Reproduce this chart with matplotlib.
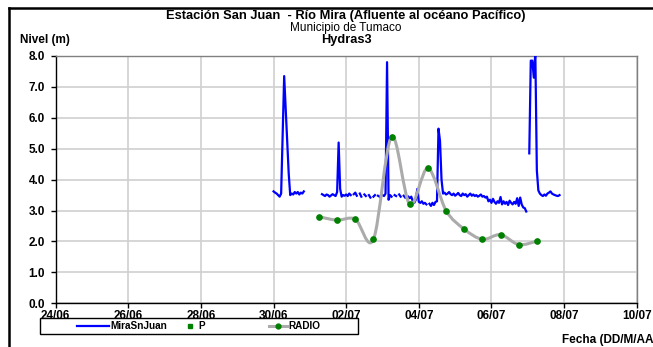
import numpy as np
import matplotlib
matplotlib.use("Agg")
import matplotlib.pyplot as plt
import matplotlib.dates as mdates
from matplotlib.path import Path
from matplotlib.patches import PathPatch, Rectangle
from matplotlib.lines import Line2D
from datetime import datetime, timedelta

plt.rcParams['font.family'] = ['Liberation Sans', 'DejaVu Sans']

# ---------------- data ----------------
title_lines = ["Estación San Juan  - Río Mira (Afluente al océano Pacífico)",
               "Municipio de Tumaco", "Hydras3"]
y_label = "Nivel (m)"
x_label = "Fecha (DD/M/AA"
x_ticks = ["2013-06-24", "2013-06-26", "2013-06-28", "2013-06-30", "2013-07-02",
           "2013-07-04", "2013-07-06", "2013-07-08", "2013-07-10"]
y_ticks = [0, 1, 2, 3, 4, 5, 6, 7, 8]
legend_labels = ["MiraSnJuan", "P", "RADIO"]

# MiraSnJuan hourly segments (start time, hourly values)
seg_a_start = "2013-06-30 00:00"
seg_a = [3.62, 3.58, 3.55, 3.50, 3.45, 3.55, 5.50, 7.35, 6.30, 5.20, 4.20, 3.50,
         3.55, 3.52, 3.60, 3.55, 3.60, 3.52, 3.58, 3.55, 3.62]
seg_b_start = "2013-07-01 08:00"
nan = np.nan
seg_b = [3.53, 3.50, 3.47, 3.52, 3.50, 3.45, 3.49, 3.53, 3.50, 3.47,
         3.60, 5.20, 3.70, 3.45,
         3.50, 3.48, 3.52, 3.47, 3.55, 3.50, nan, 3.53, 3.58, 3.48,
         nan, 3.55, 3.45, nan, 3.52, 3.47, nan, 3.50, 3.42, nan,
         3.45, 3.50, nan, 3.48, 3.45, nan, 3.50, 3.47,
         3.55, 7.80, 3.35,
         3.50, 3.45, nan, 3.50, 3.47, nan, 3.52, 3.45, nan, 3.48, 3.42, nan, 3.45, 3.40, 3.45,
         3.30, 3.25, 3.35, 3.70,
         3.28, 3.25, 3.30, 3.22, 3.25, 3.20, nan, 3.22, 3.15, 3.25, 3.18, 3.28,
         3.30, 5.65, 5.25, 4.00,
         3.55, 3.58, 3.52, 3.55, 3.60, 3.53, 3.50, 3.55, 3.48, 3.52,
         3.57, 3.50, 3.47, 3.55, 3.50, 3.53, 3.45, 3.50, 3.55, 3.48,
         3.52, 3.47, 3.50, 3.45, 3.48, 3.52, 3.45, 3.47, 3.42, 3.45,
         3.30, 3.35, 3.25, 3.38, 3.28, 3.22, 3.30, 3.25, 3.44, 3.20,
         3.30, 3.22, 3.28, 3.18, 3.32, 3.25, 3.20, 3.28, 3.22, 3.40,
         3.15, 3.42, 3.20, 3.10, 3.08, 2.97]
seg_c_start = "2013-07-07 01:00"
seg_c = [4.85, 7.85, 7.85, 7.30, 8.10, 4.30, 3.65, 3.55, 3.50, 3.47, 3.52,
         3.48, 3.55, 3.58, 3.62, 3.55, 3.52, 3.50, 3.48, 3.47, 3.50]

# RADIO readings
radio_times = ["2013-07-01 06:00", "2013-07-01 18:00", "2013-07-02 06:00",
               "2013-07-02 18:00", "2013-07-03 06:00", "2013-07-03 18:00",
               "2013-07-04 06:00", "2013-07-04 18:00", "2013-07-05 06:00",
               "2013-07-05 18:00", "2013-07-06 06:00", "2013-07-06 18:00",
               "2013-07-07 06:00"]
radio_vals = [2.80, 2.69, 2.72, 2.07, 5.39, 3.20, 4.37, 3.00, 2.40, 2.07, 2.22, 1.90, 2.01]

# ---------------- figure ----------------
W, H = 653, 347
fig = plt.figure(figsize=(W / 100, H / 100), dpi=100)
ax = fig.add_axes([55.7 / W, 1 - 303.3 / H, 581 / W, 247.3 / H])

def seg_series(start, vals):
    t0 = datetime.strptime(start, "%Y-%m-%d %H:%M")
    t = [mdates.date2num(t0 + timedelta(hours=i)) for i in range(len(vals))]
    return list(t), list(vals)

tx, vy = [], []
for st, vals in [(seg_a_start, seg_a), (seg_b_start, seg_b), (seg_c_start, seg_c)]:
    t, v = seg_series(st, vals)
    tx += t + [t[-1] + 0.01]
    vy += v + [nan]
ax.plot(tx, vy, color='#0000FF', lw=1.6, solid_joinstyle='round', zorder=3)

# RADIO smoothed line (Excel-like cardinal spline drawn as Bezier path)
rx = np.array([mdates.date2num(datetime.strptime(s, "%Y-%m-%d %H:%M")) for s in radio_times])
ry = np.array(radio_vals)
pts = np.column_stack([rx, ry])
verts = [tuple(pts[0])]
codes = [Path.MOVETO]
n = len(pts)
for i in range(n - 1):
    p0 = pts[i - 1] if i > 0 else pts[i]
    p1 = pts[i]
    p2 = pts[i + 1]
    p3 = pts[i + 2] if i + 2 < n else pts[i + 1]
    c1 = p1 + (p2 - p0) / 6.0
    c2 = p2 - (p3 - p1) / 6.0
    verts += [tuple(c1), tuple(c2), tuple(p2)]
    codes += [Path.CURVE4] * 3
ax.add_patch(PathPatch(Path(verts, codes), facecolor='none', edgecolor='#ABABAB',
                       lw=2.2, zorder=4))
ax.plot(rx, ry, ls='none', marker='o', ms=3.8, color='#008000', mec='#008000', zorder=5)

# axes styling
xt = [mdates.date2num(datetime.strptime(s, "%Y-%m-%d")) for s in x_ticks]
ax.set_xlim(xt[0], xt[-1])
ax.set_ylim(0, 8)
ax.set_xticks(xt)
ax.set_xticklabels([datetime.strptime(s, "%Y-%m-%d").strftime("%d/%m") for s in x_ticks])
ax.set_yticks(y_ticks)
ax.set_yticklabels(["%.1f" % v for v in y_ticks])
ax.grid(True, color='#D0D0D0', lw=1.2)
ax.set_axisbelow(True)
for s in ['top', 'right']:
    ax.spines[s].set_color('#808080')
    ax.spines[s].set_linewidth(1.0)
for s in ['left', 'bottom']:
    ax.spines[s].set_color('black')
    ax.spines[s].set_linewidth(1.0)
ax.tick_params(axis='both', direction='out', length=3.6, width=1, color='black',
               labelsize=8.5)
ax.tick_params(axis='x', pad=1.5)
ax.tick_params(axis='y', pad=4)
for lab in ax.get_xticklabels() + ax.get_yticklabels():
    lab.set_fontweight('bold')

# titles
cx = (55.7 + 636.7) / 2 / W
fig.text(cx, 1 - 16.5 / H, title_lines[0], ha='center', va='center', fontsize=9.3, fontweight='bold')
fig.text(cx, 1 - 28 / H, title_lines[1], ha='center', va='center', fontsize=8.5)
fig.text(cx, 1 - 40 / H, title_lines[2], ha='center', va='center', fontsize=9.2, fontweight='bold')
fig.text(20 / W, 1 - 40 / H, y_label, ha='left', va='center', fontsize=8.5, fontweight='bold')
fig.text(562 / W, 1 - 340 / H, x_label, ha='left', va='center', fontsize=8.5, fontweight='bold')

# legend (three entries placed individually inside one box)
handles = [Line2D([], [], color='#0000FF', lw=1.6),
           Line2D([], [], ls='none', marker='s', ms=2.5, color='#008000'),
           Line2D([], [], color='#ABABAB', lw=2.2, marker='o', ms=3.5, mfc='#008000', mec='#008000')]
entry_x = [77, 182, 269]
entry_len = [3.2, 1.5, 1.8]
ly = 1 - 326 / H
for h, lab, ex, hl in zip(handles, legend_labels, entry_x, entry_len):
    fig.legend([h], [lab], loc='center left', bbox_to_anchor=(ex / W, ly),
               frameon=False, prop={'size': 7.2, 'weight': 'bold'}, handlelength=hl,
               handletextpad=0.15, borderpad=0.0, borderaxespad=0)
fig.add_artist(Rectangle((40 / W, 1 - 334 / H), 318 / W, 16 / H, transform=fig.transFigure,
                         fill=False, edgecolor='black', lw=1.0))

# outer frame
fig.add_artist(Line2D([9 / W, 9 / W], [1 - 8 / H, 0], transform=fig.transFigure,
                      color='black', lw=1.8))
fig.add_artist(Line2D([9 / W, 1], [1 - 8 / H, 1 - 8 / H], transform=fig.transFigure,
                      color='black', lw=1.8))

fig.savefig("out.png", dpi=100)
